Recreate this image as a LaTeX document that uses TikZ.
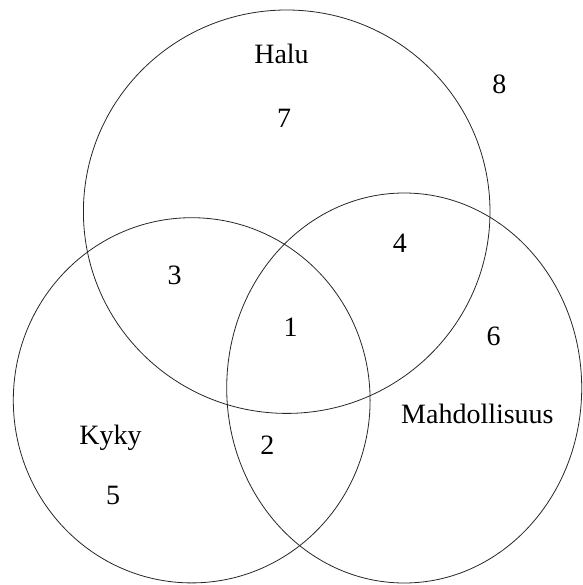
\documentclass[tikz,border=0pt]{standalone}
\usepackage{fontspec}
\setmainfont{Liberation Serif}
\begin{document}
\begin{tikzpicture}[x=1pt,y=-1pt,
  ring/.style={draw=black!85,line width=0.8pt},
  lbl/.style={inner sep=0pt,anchor=base,font=\fontsize{28}{30}\selectfont}]
\useasboundingbox (0,0) rectangle (582,585);
\draw[ring] (286.7,211.7) ellipse [x radius=203.3, y radius=201.7];
\draw[ring] (191.7,400.3) ellipse [x radius=178.4, y radius=182.6];
\draw[ring] (404.2,388) ellipse [x radius=177.5, y radius=195];
\node[lbl] (halu) at (281.5,63.2) {Halu};
\node[lbl] (n8) at (499.3,94) {8};
\node[lbl] (n7) at (284,127.4) {7};
\node[lbl] (n4) at (399.8,252.4) {4};
\node[lbl] (n3) at (174.5,284.8) {3};
\node[lbl] (n1) at (290.6,336.8) {1};
\node[lbl] (n6) at (493.7,345.4) {6};
\node[lbl] (mahd) at (477.4,423.3) {Mahdollisuus};
\node[lbl] (kyky) at (110.6,444.1) {Kyky};
\node[lbl] (n2) at (267.3,454.8) {2};
\node[lbl] (n5) at (113.2,504.2) {5};
\end{tikzpicture}
\end{document}
